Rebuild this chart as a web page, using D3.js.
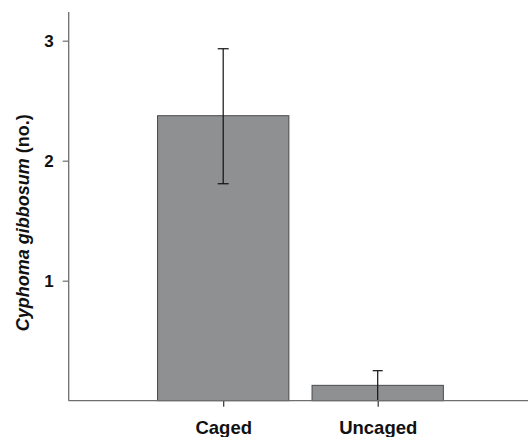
<!DOCTYPE html>
<html><head><meta charset="utf-8">
<script src="https://cdn.jsdelivr.net/npm/d3@7"></script>
<style>body{margin:0;background:#fff}svg{display:block}</style>
</head><body>
<script>
const categories = ["Caged", "Uncaged"];
const means = [2.375, 0.128];
const errUpper = [2.933, 0.25];
const errLower = [1.808, 0.0];
const yTicks = [1, 2, 3];

const W = 528, H = 437;
const svg = d3.select("body").append("svg").attr("width", W).attr("height", H);
const x = d3.scaleLinear().domain([0, 3]).range([68.7, 532.2]);
const y = d3.scaleLinear().domain([0, 3]).range([400.7, 40.7]);
const font = "Liberation Sans, Arial, sans-serif";
const axisCol = "#6e6e6e";

// bars
const bw = 0.85;
svg.selectAll("rect.bar").data(means).enter().append("rect")
  .attr("x", (d, i) => x(i + 1 - bw / 2))
  .attr("width", x(bw) - x(0))
  .attr("y", d => y(d))
  .attr("height", d => y(0) - y(d))
  .attr("fill", "#8f9092")
  .attr("stroke", "#4a4a4a").attr("stroke-width", 1);

// error bars
categories.forEach((c, i) => {
  const cx = x(i + 1);
  svg.append("line").attr("x1", cx).attr("x2", cx)
    .attr("y1", y(errUpper[i])).attr("y2", y(errLower[i]))
    .attr("stroke", "#111").attr("stroke-width", 1.2);
  const cw = i === 0 ? 5.5 : 5;
  svg.append("line").attr("x1", cx - cw).attr("x2", cx + cw)
    .attr("y1", y(errUpper[i])).attr("y2", y(errUpper[i]))
    .attr("stroke", "#111").attr("stroke-width", 1.2);
  if (errLower[i] > 0) {
    svg.append("line").attr("x1", cx - cw).attr("x2", cx + cw)
      .attr("y1", y(errLower[i])).attr("y2", y(errLower[i]))
      .attr("stroke", "#111").attr("stroke-width", 1.2);
  }
});

// y axis
const yAx = svg.append("g").attr("transform", `translate(${x(0)},0)`)
  .call(d3.axisLeft(y).tickValues(yTicks).tickSize(6).tickPadding(9).tickFormat(d3.format("d")));
yAx.select(".domain").remove();
svg.append("line").attr("x1", x(0)).attr("x2", x(0)).attr("y1", 12).attr("y2", y(0))
  .attr("stroke", axisCol).attr("stroke-width", 1.3);
yAx.selectAll(".tick line").attr("stroke", axisCol).attr("stroke-width", 1.2);
yAx.selectAll(".tick text").attr("font-family", font).attr("font-size", 17)
  .attr("font-weight", "bold").attr("fill", "#111");

// x axis
const xAx = svg.append("g").attr("transform", `translate(0,${y(0)})`)
  .call(d3.axisBottom(x).tickValues([1, 2]).tickSize(6).tickPadding(14)
    .tickFormat(d => categories[d - 1]));
xAx.select(".domain").remove();
svg.append("line").attr("x1", x(0)).attr("x2", W).attr("y1", y(0)).attr("y2", y(0))
  .attr("stroke", axisCol).attr("stroke-width", 1.3);
xAx.selectAll(".tick line").attr("stroke", "#333").attr("stroke-width", 1.2);
xAx.selectAll(".tick text").attr("font-family", font).attr("font-size", 18.5)
  .attr("font-weight", "bold").attr("fill", "#111");

// y label
const lab = svg.append("text")
  .attr("transform", "translate(28.5,222.7) rotate(-90)")
  .attr("text-anchor", "middle").attr("font-family", font)
  .attr("font-size", 18).attr("font-weight", "bold").attr("fill", "#111");
lab.append("tspan").attr("font-style", "italic").text("Cyphoma gibbosum");
lab.append("tspan").text(" (no.)");
</script>
</body></html>
